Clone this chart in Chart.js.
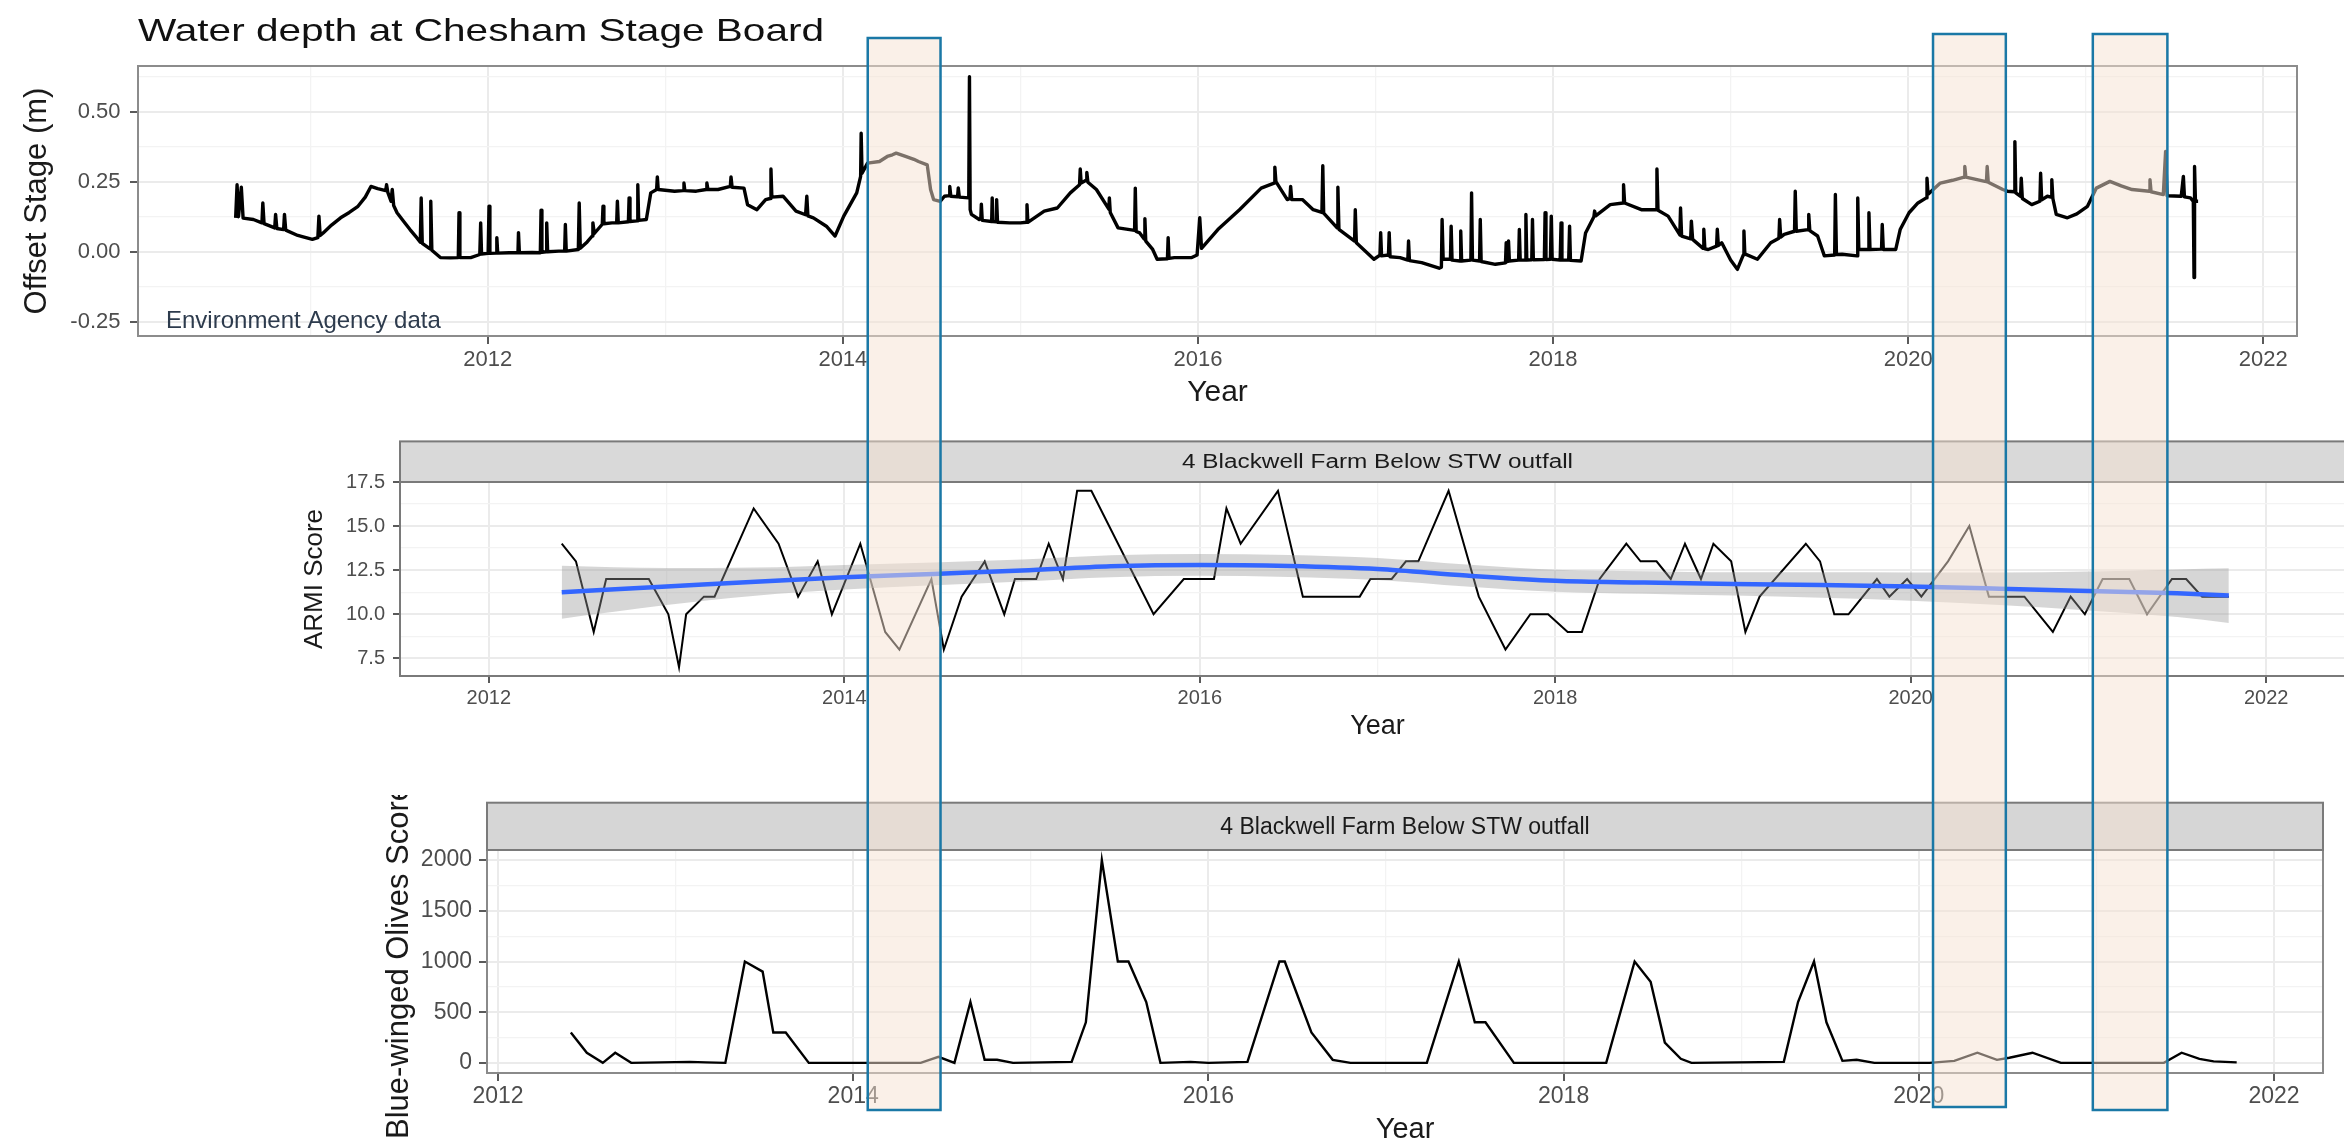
<!DOCTYPE html>
<html><head><meta charset="utf-8">
<script src="https://cdn.jsdelivr.net/npm/chart.js@4.4.1/dist/chart.umd.min.js"></script>
<style>
html,body{margin:0;padding:0;background:#fff;overflow:hidden;width:2344px;height:1147px;}
canvas{position:absolute;}
</style></head><body>
<canvas id="c1" width="2344" height="420" style="left:0;top:0"></canvas>
<canvas id="c2" width="2175" height="330" style="left:200px;top:420px"></canvas>
<canvas id="c3" width="2044" height="352" style="left:300px;top:795px"></canvas>
<canvas id="ov" width="2344" height="1147" style="left:0;top:0;pointer-events:none"></canvas>
<script>
// ---------------- DATA ----------------
// Water depth at Chesham Stage Board: [decimal year, offset stage (m)]
const depthReadings = [
[2010.580,0.121],[2010.588,0.239],[2010.596,0.125],[2010.612,0.230],[2010.622,0.120],[2010.680,0.115],[2010.728,0.103],[2010.733,0.174],[2010.740,0.100],[2010.800,0.085],
[2010.805,0.133],[2010.812,0.083],[2010.850,0.079],[2010.855,0.133],[2010.862,0.077],[2010.930,0.058],[2010.976,0.050],[2011.012,0.044],[2011.043,0.050],[2011.049,0.127],
[2011.056,0.058],[2011.073,0.067],[2011.120,0.095],[2011.171,0.121],[2011.220,0.140],[2011.269,0.162],[2011.310,0.195],[2011.342,0.233],[2011.380,0.225],[2011.425,0.218],
[2011.430,0.239],[2011.437,0.212],[2011.455,0.180],[2011.462,0.222],[2011.470,0.165],[2011.489,0.139],[2011.530,0.105],[2011.562,0.079],[2011.600,0.050],[2011.620,0.034],
[2011.625,0.192],[2011.631,0.030],[2011.675,0.010],[2011.679,0.180],[2011.685,0.005],[2011.733,-0.021],[2011.790,-0.022],[2011.834,-0.021],[2011.838,0.139],[2011.843,-0.021],
[2011.904,-0.021],[2011.955,-0.010],[2011.960,0.103],[2011.965,-0.008],[2012.002,-0.006],[2012.007,0.162],[2012.012,-0.006],[2012.047,-0.005],[2012.051,0.050],[2012.056,-0.005],
[2012.120,-0.004],[2012.170,-0.004],[2012.173,0.068],[2012.178,-0.004],[2012.250,-0.003],[2012.296,-0.004],[2012.300,0.148],[2012.305,-0.002],[2012.328,0.000],[2012.332,0.103],
[2012.337,0.000],[2012.400,0.002],[2012.433,0.002],[2012.437,0.097],[2012.442,0.002],[2012.510,0.008],[2012.515,0.174],[2012.521,0.012],[2012.560,0.035],[2012.588,0.056],
[2012.592,0.103],[2012.600,0.065],[2012.645,0.098],[2012.649,0.162],[2012.654,0.100],[2012.700,0.103],[2012.726,0.103],[2012.730,0.180],[2012.735,0.103],[2012.792,0.107],
[2012.796,0.192],[2012.801,0.108],[2012.841,0.110],[2012.845,0.239],[2012.850,0.112],[2012.893,0.115],[2012.918,0.210],[2012.951,0.222],[2012.955,0.267],[2012.960,0.222],
[2013.052,0.216],[2013.100,0.218],[2013.105,0.245],[2013.110,0.218],[2013.174,0.216],[2013.230,0.222],[2013.234,0.245],[2013.240,0.222],[2013.297,0.222],[2013.366,0.233],
[2013.370,0.267],[2013.376,0.230],[2013.443,0.227],[2013.463,0.168],[2013.516,0.150],[2013.565,0.186],[2013.590,0.190],[2013.595,0.295],[2013.600,0.195],[2013.663,0.198],
[2013.736,0.145],[2013.790,0.132],[2013.797,0.198],[2013.803,0.128],[2013.834,0.121],[2013.907,0.091],[2013.956,0.056],[2014.005,0.127],[2014.078,0.210],[2014.100,0.269],
[2014.103,0.423],[2014.108,0.280],[2014.139,0.316],[2014.206,0.322],[2014.250,0.340],[2014.279,0.346],[2014.300,0.352],[2014.353,0.340],[2014.400,0.330],[2014.426,0.322],
[2014.475,0.310],[2014.494,0.222],[2014.511,0.186],[2014.548,0.180],[2014.572,0.198],[2014.598,0.200],[2014.602,0.233],[2014.608,0.198],[2014.646,0.196],[2014.650,0.228],
[2014.656,0.195],[2014.709,0.192],[2014.713,0.625],[2014.717,0.150],[2014.724,0.133],[2014.768,0.115],[2014.777,0.118],[2014.780,0.170],[2014.785,0.112],[2014.838,0.108],
[2014.841,0.192],[2014.846,0.108],[2014.863,0.107],[2014.866,0.186],[2014.871,0.105],[2014.939,0.103],[2015.000,0.103],[2015.034,0.105],[2015.037,0.168],[2015.042,0.105],
[2015.134,0.145],[2015.208,0.156],[2015.281,0.210],[2015.333,0.239],[2015.337,0.295],[2015.342,0.245],[2015.370,0.255],[2015.374,0.283],[2015.380,0.248],[2015.428,0.222],
[2015.498,0.152],[2015.501,0.192],[2015.506,0.140],[2015.550,0.085],[2015.643,0.076],[2015.647,0.227],[2015.652,0.072],[2015.672,0.067],[2015.697,0.045],[2015.701,0.118],
[2015.706,0.038],[2015.745,0.008],[2015.770,-0.027],[2015.828,-0.025],[2015.832,0.050],[2015.837,-0.024],[2015.867,-0.021],[2015.965,-0.021],[2015.995,-0.012],[2016.010,0.121],
[2016.020,0.012],[2016.112,0.079],[2016.234,0.150],[2016.356,0.227],[2016.429,0.245],[2016.433,0.302],[2016.439,0.250],[2016.503,0.186],[2016.518,0.190],[2016.522,0.233],
[2016.528,0.186],[2016.588,0.186],[2016.649,0.150],[2016.698,0.140],[2016.703,0.307],[2016.708,0.138],[2016.784,0.085],[2016.788,0.230],[2016.794,0.080],[2016.882,0.038],
[2016.886,0.150],[2016.892,0.032],[2016.991,-0.027],[2017.025,-0.012],[2017.029,0.068],[2017.034,-0.015],[2017.073,-0.012],[2017.077,0.068],[2017.082,-0.018],[2017.138,-0.021],
[2017.182,-0.030],[2017.186,0.038],[2017.191,-0.032],[2017.260,-0.039],[2017.358,-0.059],[2017.371,-0.055],[2017.375,0.115],[2017.381,-0.027],[2017.422,-0.027],[2017.426,0.091],
[2017.431,-0.030],[2017.476,-0.033],[2017.480,0.074],[2017.485,-0.033],[2017.537,-0.030],[2017.541,0.210],[2017.546,-0.030],[2017.586,-0.033],[2017.590,0.115],[2017.595,-0.035],
[2017.675,-0.045],[2017.732,-0.040],[2017.736,0.032],[2017.741,-0.035],[2017.745,-0.033],[2017.749,0.038],[2017.754,-0.033],[2017.806,-0.030],[2017.810,0.079],[2017.815,-0.030],
[2017.843,-0.030],[2017.847,0.133],[2017.852,-0.030],[2017.880,-0.029],[2017.884,0.115],[2017.889,-0.029],[2017.951,-0.028],[2017.955,0.139],[2017.960,-0.028],[2017.985,-0.027],
[2017.990,0.127],[2017.995,-0.027],[2018.040,-0.030],[2018.045,0.103],[2018.050,-0.030],[2018.088,-0.030],[2018.093,0.091],[2018.098,-0.031],[2018.158,-0.033],[2018.183,0.067],
[2018.230,0.125],[2018.234,0.145],[2018.240,0.128],[2018.322,0.168],[2018.394,0.174],[2018.397,0.239],[2018.403,0.174],[2018.497,0.150],[2018.581,0.150],[2018.585,0.295],
[2018.591,0.148],[2018.648,0.127],[2018.714,0.060],[2018.718,0.156],[2018.724,0.056],[2018.775,0.046],[2018.779,0.109],[2018.786,0.044],[2018.845,0.012],[2018.849,0.080],
[2018.855,0.010],[2018.874,0.008],[2018.921,0.020],[2018.925,0.080],[2018.931,0.022],[2018.950,0.032],[2019.000,-0.030],[2019.038,-0.063],[2019.071,-0.012],[2019.075,0.074],
[2019.080,-0.008],[2019.151,-0.027],[2019.226,0.032],[2019.272,0.048],[2019.276,0.115],[2019.282,0.052],[2019.302,0.062],[2019.360,0.073],[2019.364,0.216],[2019.370,0.073],
[2019.436,0.079],[2019.440,0.133],[2019.446,0.075],[2019.490,0.056],[2019.528,-0.015],[2019.586,-0.012],[2019.590,0.204],[2019.596,-0.010],[2019.628,-0.009],[2019.712,-0.015],
[2019.716,0.192],[2019.722,0.008],[2019.775,0.008],[2019.779,0.139],[2019.785,0.008],[2019.850,0.009],[2019.854,0.097],[2019.860,0.008],[2019.930,0.008],[2019.955,0.079],
[2020.005,0.139],[2020.055,0.174],[2020.102,0.192],[2020.106,0.262],[2020.112,0.205],[2020.181,0.245],[2020.250,0.255],[2020.315,0.266],[2020.319,0.304],[2020.325,0.266],
[2020.432,0.251],[2020.441,0.250],[2020.445,0.304],[2020.451,0.248],[2020.533,0.222],[2020.558,0.216],[2020.597,0.214],[2020.601,0.393],[2020.606,0.210],[2020.633,0.198],
[2020.637,0.262],[2020.643,0.190],[2020.696,0.168],[2020.742,0.180],[2020.746,0.280],[2020.752,0.185],[2020.784,0.198],[2020.805,0.195],[2020.809,0.257],[2020.815,0.190],
[2020.834,0.133],[2020.897,0.121],[2020.950,0.135],[2021.010,0.162],[2021.060,0.227],[2021.136,0.251],[2021.200,0.235],[2021.261,0.222],[2021.358,0.216],[2021.362,0.257],
[2021.368,0.214],[2021.437,0.204],[2021.450,0.358],[2021.458,0.200],[2021.538,0.198],[2021.550,0.269],[2021.556,0.196],[2021.590,0.192],[2021.606,0.180],[2021.610,-0.092],
[2021.613,0.304],[2021.618,0.180],[2021.633,0.180]
];
const depthYearTicks = [2011,2012,2013,2014,2015,2016,2017,2018,2019,2020,2021,2022];
const depthStageTicks = [-0.25,-0.125,0,0.125,0.25,0.375,0.5,0.625];

// ARMI score
const armiYear = [2012.41,2012.49,2012.59,2012.66,2012.90,2013.01,2013.07,2013.11,2013.21,2013.27,2013.49,2013.63,2013.74,2013.85,2013.93,2014.09,2014.23,2014.31,2014.49,2014.56,2014.66,2014.79,2014.90,2014.96,2015.08,2015.15,2015.23,2015.31,2015.39,2015.74,2015.91,2016.08,2016.15,2016.23,2016.44,2016.58,2016.90,2016.96,2017.08,2017.16,2017.23,2017.40,2017.57,2017.72,2017.86,2017.96,2018.07,2018.15,2018.25,2018.40,2018.48,2018.57,2018.65,2018.73,2018.82,2018.89,2018.99,2019.07,2019.15,2019.41,2019.49,2019.57,2019.65,2019.81,2019.88,2019.98,2020.06,2020.21,2020.33,2020.44,2020.64,2020.80,2020.90,2020.98,2021.08,2021.23,2021.33,2021.47,2021.55,2021.64,2021.79];
const armiScore = [14,13,9,12,12,10,7,10,11,11,16,14,11,13,10,14,9,8,12,8,11,13,10,12,12,14,12,17,17,10,12,12,16,14,17,11,11,12,12,13,13,17,11,8,10,10,9,9,12,14,13,13,12,14,12,14,13,9,11,14,13,10,10,12,11,12,11,13,15,11,11,9,11,10,12,12,10,12,12,11,11];
// loess smooth and its confidence band
const smoothYear = [2012.41,2013.0,2013.5,2014.0,2014.5,2015.0,2015.5,2016.0,2016.5,2017.0,2017.5,2018.0,2018.5,2019.0,2019.5,2020.0,2020.5,2021.0,2021.5,2021.79];
const smoothFit  = [11.25,11.57,11.85,12.10,12.29,12.48,12.72,12.80,12.74,12.57,12.20,11.90,11.80,11.72,11.66,11.57,11.45,11.32,11.19,11.06];
const smoothLow  = [9.75,10.52,11.05,11.40,11.64,11.86,12.10,12.18,12.12,11.95,11.58,11.28,11.16,11.06,10.94,10.77,10.53,10.22,9.84,9.51];
const smoothHigh = [12.75,12.62,12.65,12.80,12.94,13.10,13.34,13.42,13.36,13.19,12.82,12.52,12.44,12.38,12.38,12.37,12.37,12.42,12.54,12.61];
const armiYearTicks = [2012,2013,2014,2015,2016,2017,2018,2019,2020,2021,2022];
const armiScoreTicks = [7.5,8.75,10,11.25,12.5,13.75,15,16.25,17.5];

// Blue-winged Olives score
const bwoYear = [2012.41,2012.50,2012.59,2012.66,2012.75,2013.08,2013.17,2013.28,2013.39,2013.49,2013.55,2013.62,2013.75,2014.38,2014.48,2014.57,2014.66,2014.74,2014.81,2014.90,2015.23,2015.31,2015.40,2015.49,2015.55,2015.65,2015.73,2015.90,2016.00,2016.22,2016.40,2016.43,2016.58,2016.70,2016.80,2017.23,2017.41,2017.50,2017.56,2017.72,2018.24,2018.40,2018.49,2018.57,2018.66,2018.72,2019.24,2019.32,2019.41,2019.48,2019.57,2019.65,2019.75,2020.06,2020.20,2020.33,2020.44,2020.51,2020.64,2020.80,2021.38,2021.48,2021.58,2021.66,2021.79];
const bwoScore = [300,100,0,100,0,10,5,0,1000,900,300,300,0,0,60,0,600,30,30,0,10,400,2000,1000,1000,600,0,10,0,10,1000,1000,300,30,0,0,1000,400,400,0,0,1000,800,200,40,0,10,600,1000,400,20,30,0,0,20,100,30,50,100,0,0,100,40,15,5];
const bwoYearTicks = [2012,2013,2014,2015,2016,2017,2018,2019,2020,2021,2022];
const bwoScoreTicks = [0,250,500,750,1000,1250,1500,1750,2000];

// highlighted periods (decimal years)
const highlightStart = [2014.14, 2020.14, 2021.04];
const highlightEnd   = [2014.55, 2020.55, 2021.46];

const stripLabel = '4 Blackwell Farm Below STW outfall';

// ---------------- HELPERS ----------------
const FONT = "'Liberation Sans', Arial, Helvetica, sans-serif";
Chart.defaults.font.family = FONT;

function pts(xs, ys) { return xs.map((x, i) => ({x: x, y: ys[i]})); }
function near(v, step) { const r = v / step; return Math.abs(r - Math.round(r)) < 1e-6; }
function yearLabel(v) { const r = Math.round(v); return r % 2 === 0 ? String(r) : ''; }
function grid(step, tl) {
  return {
    color: c => (c.tick && near(c.tick.value, step)) ? '#EBEBEB' : '#F3F3F3',
    lineWidth: c => (c.tick && near(c.tick.value, step)) ? 2 : 1.3,
    tickColor: c => (c.tick && near(c.tick.value, step)) ? '#5a5a5a' : 'rgba(0,0,0,0)',
    tickWidth: 2, tickLength: tl, drawTicks: true
  };
}
function setTicks(arr) { return s => { s.ticks = arr.map(v => ({value: v})); }; }

const panelPlugin = {
  id: 'panel',
  afterDraw(chart, args, o) {
    const ctx = chart.ctx, a = chart.chartArea;
    ctx.save();
    ctx.strokeStyle = o.border; ctx.lineWidth = 2;
    ctx.strokeRect(a.left, a.top, a.right - a.left, a.bottom - a.top);
    if (o.stripHeight) {
      const top = a.top - o.stripHeight;
      ctx.fillStyle = o.stripFill;
      ctx.fillRect(a.left, top, a.right - a.left, o.stripHeight);
      ctx.strokeStyle = o.stripBorder; ctx.lineWidth = 2;
      ctx.strokeRect(a.left, top, a.right - a.left, o.stripHeight);
      ctx.save();
      ctx.fillStyle = '#1a1a1a'; ctx.font = o.stripFont;
      ctx.textAlign = 'center'; ctx.textBaseline = 'middle';
      ctx.translate((a.left + a.right) / 2, top + o.stripHeight / 2 + 1);
      if (o.stripWidth) ctx.scale(o.stripWidth / ctx.measureText(o.stripText).width, 1);
      ctx.fillText(o.stripText, 0, 0);
      ctx.restore();
    }
    if (o.title) {
      ctx.save();
      ctx.fillStyle = '#111'; ctx.font = o.titleFont;
      ctx.textAlign = 'left'; ctx.textBaseline = 'alphabetic';
      ctx.translate(a.left, a.top - o.titleGap);
      ctx.scale(o.titleWidth / ctx.measureText(o.title).width, 1);
      ctx.fillText(o.title, 0, 0);
      ctx.restore();
    }
    if (o.note) {
      ctx.fillStyle = '#2d3b4d'; ctx.font = o.noteFont;
      ctx.textAlign = 'left'; ctx.textBaseline = 'alphabetic';
      ctx.fillText(o.note, a.left + 28, a.bottom - 8);
    }
    ctx.restore();
  }
};

const common = { responsive: false, animation: false, devicePixelRatio: 1, events: [] };

// ---------------- CHART 1: water depth ----------------
const chart1 = new Chart(document.getElementById('c1'), {
  type: 'line',
  data: { datasets: [{
    data: depthReadings.map(p => ({x: p[0], y: p[1]})),
    borderColor: '#000', borderWidth: 3.4, borderJoinStyle: 'round', pointRadius: 0, tension: 0
  }]},
  options: Object.assign({}, common, {
    layout: { padding: { top: 66, right: 47, left: 0, bottom: 0 } },
    plugins: {
      legend: { display: false }, tooltip: { enabled: false },
      panel: { border: '#8c8c8c', title: 'Water depth at Chesham Stage Board', titleFont: '32px ' + FONT,
               titleGap: 25, titleWidth: 686, note: 'Environment Agency data', noteFont: '24px ' + FONT }
    },
    scales: {
      x: { type: 'linear', min: 2010.03, max: 2022.19,
        afterBuildTicks: setTicks(depthYearTicks), afterFit: s => { s.height = 84; },
        ticks: { autoSkip: false, maxRotation: 0, padding: 3, color: '#4D4D4D', font: { size: 22 }, callback: v => yearLabel(v) },
        grid: grid(2, 8), border: { display: false },
        title: { display: true, text: 'Year', color: '#1a1a1a', font: { size: 30 }, padding: { top: 0, bottom: 9 } } },
      y: { type: 'linear', min: -0.301, max: 0.663,
        afterBuildTicks: setTicks(depthStageTicks), afterFit: s => { s.width = 138; },
        ticks: { autoSkip: false, padding: 9.5, color: '#4D4D4D', font: { size: 22 }, callback: v => near(v, 0.25) ? v.toFixed(2) : '' },
        grid: grid(0.25, 8), border: { display: false },
        title: { display: true, text: 'Offset Stage (m)', color: '#1a1a1a', font: { size: 31 }, padding: { top: 18.4, bottom: 0 } } }
    }
  }),
  plugins: [panelPlugin]
});

// ---------------- CHART 2: ARMI score ----------------
const chart2 = new Chart(document.getElementById('c2'), {
  type: 'line',
  data: { datasets: [
    { data: pts(smoothYear, smoothLow), borderWidth: 0, pointRadius: 0, cubicInterpolationMode: 'monotone', fill: false, order: 2 },
    { data: pts(smoothYear, smoothHigh), borderWidth: 0, pointRadius: 0, cubicInterpolationMode: 'monotone', fill: '-1', backgroundColor: 'rgba(153,153,153,0.4)', order: 1 },
    { data: pts(armiYear, armiScore), borderColor: '#000', borderWidth: 2, pointRadius: 0, tension: 0, order: 3 },
    { data: pts(smoothYear, smoothFit), borderColor: '#3366FF', borderWidth: 4.5, pointRadius: 0, cubicInterpolationMode: 'monotone', order: 0 }
  ]},
  options: Object.assign({}, common, {
    layout: { padding: { top: 62, right: 20, left: 0, bottom: 0 } },
    plugins: {
      legend: { display: false }, tooltip: { enabled: false },
      panel: { border: '#7a7a7a', stripHeight: 40.6, stripFill: '#D9D9D9', stripBorder: '#7a7a7a',
               stripFont: '20px ' + FONT, stripText: stripLabel, stripWidth: 391 }
    },
    scales: {
      x: { type: 'linear', min: 2011.5, max: 2022.5,
        afterBuildTicks: setTicks(armiYearTicks), afterFit: s => { s.height = 74; },
        ticks: { autoSkip: false, maxRotation: 0, padding: 3, color: '#4D4D4D', font: { size: 20 }, callback: v => yearLabel(v) },
        grid: grid(2, 7), border: { display: false },
        title: { display: true, text: 'Year', color: '#1a1a1a', font: { size: 27 }, padding: { top: 0, bottom: 7 } } },
      y: { type: 'linear', min: 6.5, max: 17.5,
        afterBuildTicks: setTicks(armiScoreTicks), afterFit: s => { s.width = 200; },
        ticks: { autoSkip: false, padding: 8, color: '#4D4D4D', font: { size: 20 }, callback: v => near(v, 2.5) ? v.toFixed(1) : '' },
        grid: grid(2.5, 7), border: { display: false },
        title: { display: true, text: 'ARMI Score', color: '#1a1a1a', font: { size: 26 }, padding: { top: 99.4, bottom: 0 } } }
    }
  }),
  plugins: [panelPlugin]
});

// ---------------- CHART 3: Blue-winged Olives ----------------
const chart3 = new Chart(document.getElementById('c3'), {
  type: 'line',
  data: { datasets: [{ data: pts(bwoYear, bwoScore), borderColor: '#000', borderWidth: 2.4, pointRadius: 0, tension: 0 }]},
  options: Object.assign({}, common, {
    layout: { padding: { top: 55, right: 21, left: 0, bottom: 0 } },
    plugins: {
      legend: { display: false }, tooltip: { enabled: false },
      panel: { border: '#8a8a8a', stripHeight: 47.3, stripFill: '#D6D6D6', stripBorder: '#7a7a7a',
               stripFont: '23px ' + FONT, stripText: stripLabel }
    },
    scales: {
      x: { type: 'linear', min: 2011.938, max: 2022.276,
        afterBuildTicks: setTicks(bwoYearTicks), afterFit: s => { s.height = 74; },
        ticks: { autoSkip: false, maxRotation: 0, padding: 2, color: '#4D4D4D', font: { size: 23 }, callback: v => yearLabel(v) },
        grid: grid(2, 8), border: { display: false },
        title: { display: true, text: 'Year', color: '#1a1a1a', font: { size: 29 }, padding: { top: 0, bottom: 0 } } },
      y: { type: 'linear', min: -100, max: 2100,
        afterBuildTicks: setTicks(bwoScoreTicks), afterFit: s => { s.width = 187; },
        ticks: { autoSkip: false, padding: 7, color: '#4D4D4D', font: { size: 23 }, callback: v => near(v, 500) ? String(v) : '' },
        grid: grid(500, 8), border: { display: false },
        title: { display: true, text: 'Blue-winged Olives Score', color: '#1a1a1a', font: { size: 31 }, padding: { top: 80.4, bottom: 0 } } }
    }
  }),
  plugins: [panelPlugin]
});

// ---------------- highlight overlay ----------------
(function drawOverlay() {
  const ctx = document.getElementById('ov').getContext('2d');
  const sx = chart1.scales.x;
  for (let i = 0; i < highlightStart.length; i++) {
    const x0 = sx.getPixelForValue(highlightStart[i]);
    const x1 = sx.getPixelForValue(highlightEnd[i]);
    const top = i === 0 ? 38 : 34, bottom = i === 1 ? 1107 : 1110;
    ctx.fillStyle = 'rgba(246,226,210,0.5)';
    ctx.fillRect(x0, top, x1 - x0, bottom - top);
    ctx.strokeStyle = '#1a78a6'; ctx.lineWidth = 2.5;
    ctx.strokeRect(x0, top, x1 - x0, bottom - top);
  }
})();
</script>
</body></html>
